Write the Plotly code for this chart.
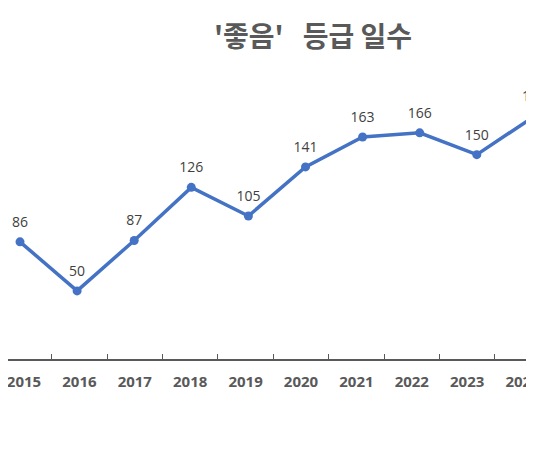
import plotly.graph_objects as go

# '좋음' 등급 일수 (연도별)
years = ["2015", "2016", "2017", "2018", "2019", "2020", "2021", "2022", "2023", "2024"]
days = [86, 50, 87, 126, 105, 141, 163, 166, 150, 178]

blue = "#4472C4"
grey = "#595959"

W, H = 526, 446  # 페이지 여백(8px) 안에 들어가도록

fig = go.Figure()

# 실제 선
fig.add_trace(go.Scatter(
    x=years, y=days, mode="lines+markers",
    line=dict(color=blue, width=3.5),
    marker=dict(color=blue, size=9),
    cliponaxis=False, hoverinfo="x+y", showlegend=False,
))

# 데이터 레이블 (투명 마커 위에 텍스트)
fig.add_trace(go.Scatter(
    x=years, y=days, mode="markers+text",
    text=[str(v) for v in days], textposition="top center",
    textfont=dict(family="Open Sans", size=14, color="#404040"),
    marker=dict(size=17, opacity=0),
    cliponaxis=False, hoverinfo="skip", showlegend=False,
))

# 축 눈금용 (보이지 않음)
fig.add_trace(go.Scatter(
    x=years, y=days, mode="markers", xaxis="x2",
    marker=dict(opacity=0), hoverinfo="skip", showlegend=False,
))

fig.update_layout(
    width=W, height=H,
    margin=dict(l=0, r=0, t=78, b=95, autoexpand=False),
    paper_bgcolor="white", plot_bgcolor="white",
    title=dict(
        text="'좋음'\u00a0\u00a0\u00a0등급 일수",
        x=305 / W, xanchor="center", xref="paper",
        y=1 - 29 / H, yanchor="middle", yref="container",
        font=dict(family="Noto Sans CJK KR", size=28, color=grey, weight="bold"),
    ),
    xaxis=dict(
        type="category", range=[-12 / 57.1, (W - 12) / 57.1], automargin=False,
        showline=False, showgrid=False, zeroline=False, showticklabels=False,
        ticks="",
    ),
    xaxis2=dict(
        type="category", overlaying="x", anchor="y", side="bottom",
        range=[-16 / 55.4, (W - 16) / 55.4], automargin=False,
        showline=True, linecolor=grey, linewidth=2,
        ticks="inside", tickson="boundaries", ticklen=5, tickwidth=1, tickcolor=grey,
        showgrid=False, zeroline=False,
        tickfont=dict(family="Open Sans", size=15, color=grey, weight="bold"),
        ticklabelstandoff=8,
    ),
    yaxis=dict(
        range=[0, 200.4], showgrid=False, zeroline=False, showticklabels=False,
        showline=False, automargin=False,
    ),
)

fig.write_html("out.html")
